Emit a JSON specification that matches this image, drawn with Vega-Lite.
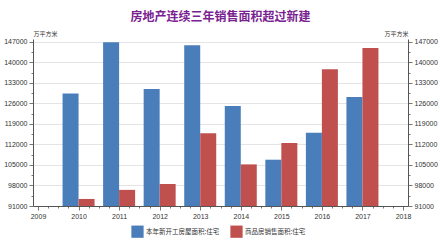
{
  "$schema": "https://vega.github.io/schema/vega-lite/v6.json",
  "width": 375,
  "height": 167,
  "autosize": "none",
  "padding": {"left": 33, "top": 39, "right": 32, "bottom": 46},
  "background": "white",
  "title": {
    "text": "房地产连续三年销售面积超过新建",
    "font": "Noto Sans CJK SC",
    "fontSize": 12,
    "fontWeight": "bold",
    "color": "#7a2190",
    "anchor": "middle",
    "offset": 6
  },
  "config": {
    "view": {"stroke": null},
    "font": "Noto Sans CJK SC",
    "axis": {
      "labelFont": "Liberation Sans",
      "labelFontSize": 7,
      "labelColor": "#333333",
      "domainColor": "#555555",
      "tickColor": "#777777",
      "titleFont": "Noto Sans CJK SC",
      "titleFontSize": 6,
      "titleFontWeight": "normal",
      "titleColor": "#333333"
    }
  },
  "data": {
    "values": [
      {"year": 2010, "series": "本年新开工房屋面积:住宅", "value": 129400},
      {"year": 2011, "series": "本年新开工房屋面积:住宅", "value": 146900},
      {"year": 2012, "series": "本年新开工房屋面积:住宅", "value": 130900},
      {"year": 2013, "series": "本年新开工房屋面积:住宅", "value": 145900},
      {"year": 2014, "series": "本年新开工房屋面积:住宅", "value": 125100},
      {"year": 2015, "series": "本年新开工房屋面积:住宅", "value": 106800},
      {"year": 2016, "series": "本年新开工房屋面积:住宅", "value": 116000},
      {"year": 2017, "series": "本年新开工房屋面积:住宅", "value": 128200},
      {"year": 2010, "series": "商品房销售面积:住宅", "value": 93400},
      {"year": 2011, "series": "商品房销售面积:住宅", "value": 96500},
      {"year": 2012, "series": "商品房销售面积:住宅", "value": 98500},
      {"year": 2013, "series": "商品房销售面积:住宅", "value": 115800},
      {"year": 2014, "series": "商品房销售面积:住宅", "value": 105200},
      {"year": 2015, "series": "商品房销售面积:住宅", "value": 112500},
      {"year": 2016, "series": "商品房销售面积:住宅", "value": 137700},
      {"year": 2017, "series": "商品房销售面积:住宅", "value": 144900}
    ]
  },
  "encoding": {
    "x": {
      "field": "year",
      "type": "quantitative",
      "scale": {"domain": [2009, 2018], "nice": false, "zero": false},
      "axis": {
        "title": null,
        "grid": false,
        "values": [2009, 2009.25, 2009.5, 2009.75, 2010, 2010.25, 2010.5, 2010.75, 2011, 2011.25, 2011.5, 2011.75, 2012, 2012.25, 2012.5, 2012.75, 2013, 2013.25, 2013.5, 2013.75, 2014, 2014.25, 2014.5, 2014.75, 2015, 2015.25, 2015.5, 2015.75, 2016, 2016.25, 2016.5, 2016.75, 2017, 2017.25, 2017.5, 2017.75, 2018],
        "labelExpr": "datum.value % 1 === 0 ? datum.value : ''",
        "tickSize": {"expr": "datum.value % 1 === 0 ? 4 : 2"},
        "labelPadding": 2,
        "labelFlush": false
      }
    },
    "color": {
      "field": "series",
      "type": "nominal",
      "scale": {
        "domain": ["本年新开工房屋面积:住宅", "商品房销售面积:住宅"],
        "range": ["#4a7ebb", "#c0504d"]
      },
      "legend": {
        "title": null,
        "orient": "none",
        "legendX": 98,
        "legendY": 186,
        "direction": "horizontal",
        "symbolType": "square",
        "symbolSize": 150,
        "symbolStrokeWidth": 0,
        "labelFont": "Noto Sans CJK SC",
        "labelFontSize": 6.5,
        "labelColor": "#333333",
        "labelOffset": 2,
        "columnPadding": 10
      }
    }
  },
  "layer": [
    {
      "transform": [{"filter": "datum.series === '本年新开工房屋面积:住宅'"}],
      "mark": {"type": "bar", "width": 16, "xOffset": -8},
      "encoding": {
        "y": {
          "field": "value",
          "type": "quantitative",
          "scale": {"domain": [91000, 148000], "nice": false, "zero": false},
          "axis": {
            "orient": "left",
            "title": "万平方米",
            "titleAngle": 0,
            "titleX": 0,
            "titleY": -3,
            "titleAlign": "left",
            "titleBaseline": "bottom",
            "values": [91000, 94500, 98000, 101500, 105000, 108500, 112000, 115500, 119000, 122500, 126000, 129500, 133000, 136500, 140000, 143500, 147000],
            "labelExpr": "(datum.value - 91000) % 7000 === 0 ? datum.value : ''",
            "tickSize": {"expr": "(datum.value - 91000) % 7000 === 0 ? 4 : 2"},
            "grid": true,
            "gridColor": {"expr": "(datum.value - 91000) % 7000 === 0 ? '#e4e4e4' : 'transparent'"},
            "labelPadding": 2
          }
        },
        "y2": {"datum": 91000}
      }
    },
    {
      "transform": [{"filter": "datum.series === '商品房销售面积:住宅'"}],
      "mark": {"type": "bar", "width": 16, "xOffset": 8},
      "encoding": {
        "y": {
          "field": "value",
          "type": "quantitative",
          "scale": {"domain": [91000, 148000], "nice": false, "zero": false},
          "axis": {
            "orient": "right",
            "title": "万平方米",
            "titleAngle": 0,
            "titleX": 0,
            "titleY": -3,
            "titleAlign": "right",
            "titleBaseline": "bottom",
            "values": [91000, 94500, 98000, 101500, 105000, 108500, 112000, 115500, 119000, 122500, 126000, 129500, 133000, 136500, 140000, 143500, 147000],
            "labelExpr": "(datum.value - 91000) % 7000 === 0 ? datum.value : ''",
            "tickSize": {"expr": "(datum.value - 91000) % 7000 === 0 ? 4 : 2"},
            "grid": false,
            "labelPadding": 2
          }
        },
        "y2": {"datum": 91000}
      }
    }
  ],
  "resolve": {"scale": {"y": "independent"}}
}
